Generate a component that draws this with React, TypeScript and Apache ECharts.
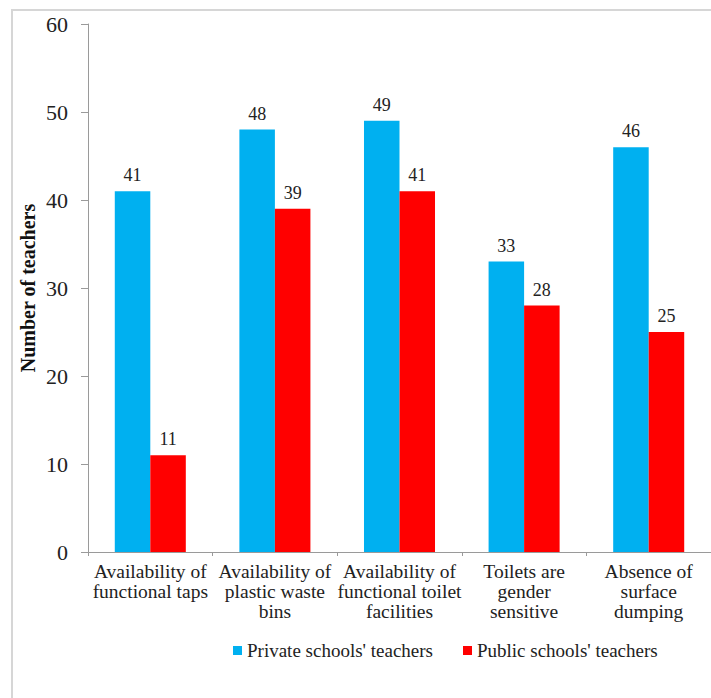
import React, { useEffect, useRef } from "react";
import * as echarts from "echarts";

const categories = [
  "Availability of\nfunctional taps",
  "Availability of\nplastic waste\nbins",
  "Availability of\nfunctional toilet\nfacilities",
  "Toilets are\ngender\nsensitive",
  "Absence of\nsurface\ndumping",
];
const privateTeachers = [41, 48, 49, 33, 46];
const publicTeachers = [11, 39, 41, 28, 25];
const seriesNames = ["Private schools' teachers", "Public schools' teachers"];

const FONT = "Liberation Serif";

export default function App() {
  const ref = useRef<HTMLDivElement>(null);

  useEffect(() => {
    if (!ref.current) return;
    const chart = echarts.init(ref.current, null, { renderer: "svg" });
    const valueLabel = {
      show: true,
      position: "top" as const,
      distance: 7,
      fontFamily: FONT,
      fontSize: 18,
      color: "#222",
    };
    chart.setOption({
      animation: false,
      backgroundColor: "#fff",
      textStyle: { fontFamily: FONT },
      graphic: [
        {
          type: "rect",
          shape: { x: 12, y: 10, width: 760, height: 760 },
          style: { fill: "none", stroke: "#d6d6d6", lineWidth: 2 },
          silent: true,
        },
      ],
      grid: { left: 88, right: -12, top: 24, bottom: 146, containLabel: false },
      legend: {
        left: 228,
        top: 636,
        itemWidth: 9,
        itemHeight: 9,
        itemGap: 30,
        icon: "rect",
        textStyle: { fontFamily: FONT, fontSize: 19, color: "#222" },
        data: seriesNames,
      },
      xAxis: {
        type: "category",
        data: categories,
        axisLine: { show: true, lineStyle: { color: "#9a9a9a", width: 1 } },
        axisTick: { show: true, length: 4, lineStyle: { color: "#9a9a9a" } },
        axisLabel: {
          interval: 0,
          margin: 9,
          fontFamily: FONT,
          fontSize: 19.5,
          lineHeight: 20,
          color: "#222",
        },
      },
      yAxis: {
        type: "value",
        min: 0,
        max: 60,
        interval: 10,
        name: "Number of teachers",
        nameLocation: "middle",
        nameGap: 50,
        nameMoveOverlap: false,
        nameTextStyle: {
          fontFamily: FONT,
          fontSize: 20,
          fontWeight: "bold",
          color: "#111",
        },
        axisLine: { show: true, lineStyle: { color: "#9a9a9a", width: 1 } },
        axisTick: { show: true, length: 7, lineStyle: { color: "#9a9a9a" } },
        splitLine: { show: false },
        axisLabel: {
          margin: 20,
          fontFamily: FONT,
          fontSize: 22,
          color: "#222",
        },
      },
      series: [
        {
          name: seriesNames[0],
          type: "bar",
          data: privateTeachers,
          barGap: "0%",
          barCategoryGap: "43%",
          itemStyle: { color: "#00B0F0" },
          label: valueLabel,
        },
        {
          name: seriesNames[1],
          type: "bar",
          data: publicTeachers,
          barGap: "0%",
          barCategoryGap: "43%",
          itemStyle: { color: "#FF0000" },
          label: valueLabel,
        },
      ],
    });
    return () => chart.dispose();
  }, []);

  return (
    <div
      ref={ref}
      style={{ position: "fixed", left: 0, top: 0, width: 711, height: 698 }}
    />
  );
}
